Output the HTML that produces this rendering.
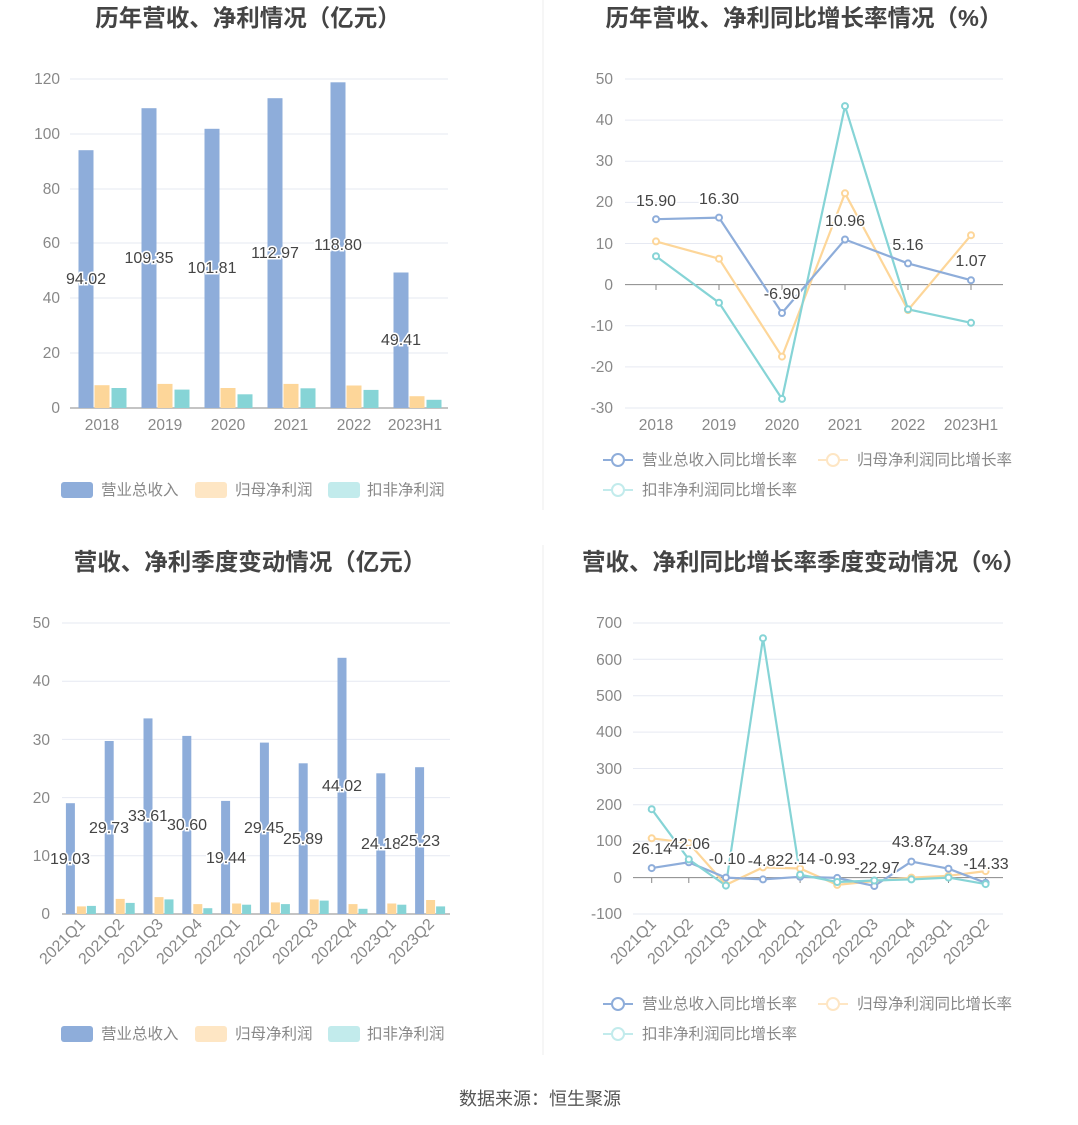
<!DOCTYPE html>
<html><head><meta charset="utf-8"><style>
body{margin:0;background:#fff}
svg{display:block;font-family:"Liberation Sans","Noto Sans CJK SC",sans-serif}
.t{font-size:23.5px;font-weight:bold;fill:#444;text-anchor:middle}
.ax{font-size:15.5px;fill:#888}
.g{stroke:#e6e9f2;stroke-width:1}
.lb{font-size:16px;fill:#444;text-anchor:middle;stroke:#fff;stroke-width:3;paint-order:stroke}
.lg{font-size:15.5px;fill:#888}
.b{fill:#8eadda}.y{fill:#fdd699}.c{fill:#86d4d6}
</style></head><body>
<svg width="1078" height="1125" viewBox="0 0 1078 1125">
<line x1="543" y1="0" x2="543" y2="510" stroke="#eee"/>
<line x1="543" y1="545" x2="543" y2="1055" stroke="#eee"/>
<text class="t" x="248" y="26">历年营收、净利情况（亿元）</text>
<text class="t" x="804" y="26">历年营收、净利同比增长率情况（%）</text>
<text class="t" x="250" y="570">营收、净利季度变动情况（亿元）</text>
<text class="t" x="804" y="570">营收、净利同比增长率季度变动情况（%）</text>
<text x="540" y="1105" font-size="18" fill="#555" text-anchor="middle">数据来源：恒生聚源</text>

<!-- Chart1 -->
<g class="g"><line x1="70" x2="448" y1="79" y2="79"/><line x1="70" x2="448" y1="134" y2="134"/><line x1="70" x2="448" y1="189" y2="189"/><line x1="70" x2="448" y1="243" y2="243"/><line x1="70" x2="448" y1="298" y2="298"/><line x1="70" x2="448" y1="353" y2="353"/></g>
<line x1="70" x2="448" y1="408" y2="408" stroke="#888"/>
<g class="ax" text-anchor="end"><text x="60" y="84">120</text><text x="60" y="139">100</text><text x="60" y="194">80</text><text x="60" y="248">60</text><text x="60" y="303">40</text><text x="60" y="358">20</text><text x="60" y="413">0</text></g>
<g class="ax" text-anchor="middle"><text x="102" y="430">2018</text><text x="165" y="430">2019</text><text x="228" y="430">2020</text><text x="291" y="430">2021</text><text x="354" y="430">2022</text><text x="415" y="430">2023H1</text></g>
<g class="b"><rect x="78.5" y="150.2" width="15" height="257.8"/><rect x="141.5" y="108.2" width="15" height="299.8"/><rect x="204.5" y="128.8" width="15" height="279.2"/><rect x="267.5" y="98.2" width="15" height="309.8"/><rect x="330.5" y="82.3" width="15" height="325.7"/><rect x="393.5" y="272.5" width="15" height="135.5"/></g>
<g class="y"><rect x="94.5" y="385.2" width="15" height="22.8"/><rect x="157.5" y="383.9" width="15" height="24.1"/><rect x="220.5" y="388" width="15" height="20"/><rect x="283.5" y="383.9" width="15" height="24.1"/><rect x="346.5" y="385.5" width="15" height="22.5"/><rect x="409.5" y="396.2" width="15" height="11.8"/></g>
<g class="c"><rect x="111.5" y="388" width="15" height="20"/><rect x="174.5" y="389.6" width="15" height="18.4"/><rect x="237.5" y="394.3" width="15" height="13.7"/><rect x="300.5" y="388.3" width="15" height="19.7"/><rect x="363.5" y="389.9" width="15" height="18.1"/><rect x="426.5" y="399.8" width="15" height="8.2"/></g>
<g class="lb"><text x="86" y="284">94.02</text><text x="149" y="263">109.35</text><text x="212" y="273">101.81</text><text x="275" y="258">112.97</text><text x="338" y="250">118.80</text><text x="401" y="345">49.41</text></g>
<rect x="61" y="482" width="32" height="16" rx="3" fill="#8eadda"/><text class="lg" x="101" y="495">营业总收入</text>
<rect x="195" y="482" width="32" height="16" rx="3" fill="#fee6c4"/><text class="lg" x="235" y="495">归母净利润</text>
<rect x="328" y="482" width="32" height="16" rx="3" fill="#c2ebec"/><text class="lg" x="367" y="495">扣非净利润</text>

<!-- Chart2 -->
<g class="g"><line x1="625" x2="1003" y1="79" y2="79"/><line x1="625" x2="1003" y1="120.1" y2="120.1"/><line x1="625" x2="1003" y1="161.3" y2="161.3"/><line x1="625" x2="1003" y1="202.4" y2="202.4"/><line x1="625" x2="1003" y1="243.5" y2="243.5"/><line x1="625" x2="1003" y1="325.7" y2="325.7"/><line x1="625" x2="1003" y1="366.9" y2="366.9"/><line x1="625" x2="1003" y1="408" y2="408"/></g>
<line x1="625" x2="1003" y1="284.6" y2="284.6" stroke="#888"/>
<g stroke="#888"><line x1="656" x2="656" y1="284.6" y2="290"/><line x1="719" x2="719" y1="284.6" y2="290"/><line x1="782" x2="782" y1="284.6" y2="290"/><line x1="845" x2="845" y1="284.6" y2="290"/><line x1="908" x2="908" y1="284.6" y2="290"/><line x1="971" x2="971" y1="284.6" y2="290"/></g>
<g class="ax" text-anchor="end"><text x="613" y="84">50</text><text x="613" y="125">40</text><text x="613" y="166">30</text><text x="613" y="207">20</text><text x="613" y="249">10</text><text x="613" y="290">0</text><text x="613" y="331">-10</text><text x="613" y="372">-20</text><text x="613" y="413">-30</text></g>
<g class="ax" text-anchor="middle"><text x="656" y="430">2018</text><text x="719" y="430">2019</text><text x="782" y="430">2020</text><text x="845" y="430">2021</text><text x="908" y="430">2022</text><text x="971" y="430">2023H1</text></g>
<g fill="none" stroke-width="2.2">
<polyline stroke="#fdd699" points="656,241.4 719,258.7 782,356.6 845,193.3 908,310.1 971,235.2"/>
<polyline stroke="#86d4d6" points="656,256.2 719,302.7 782,398.9 845,106.1 908,309.3 971,322.8"/>
<polyline stroke="#8eadda" points="656,219.2 719,217.6 782,313 845,239.5 908,263.4 971,280.2"/>
</g>
<g fill="#fff" stroke-width="2">
<g stroke="#fdd699"><circle cx="656" cy="241.4" r="3"/><circle cx="719" cy="258.7" r="3"/><circle cx="782" cy="356.6" r="3"/><circle cx="845" cy="193.3" r="3"/><circle cx="908" cy="310.1" r="3"/><circle cx="971" cy="235.2" r="3"/></g>
<g stroke="#86d4d6"><circle cx="656" cy="256.2" r="3"/><circle cx="719" cy="302.7" r="3"/><circle cx="782" cy="398.9" r="3"/><circle cx="845" cy="106.1" r="3"/><circle cx="908" cy="309.3" r="3"/><circle cx="971" cy="322.8" r="3"/></g>
<g stroke="#8eadda"><circle cx="656" cy="219.2" r="3"/><circle cx="719" cy="217.6" r="3"/><circle cx="782" cy="313" r="3"/><circle cx="845" cy="239.5" r="3"/><circle cx="908" cy="263.4" r="3"/><circle cx="971" cy="280.2" r="3"/></g>
</g>
<g class="lb"><text x="656" y="206">15.90</text><text x="719" y="204">16.30</text><text x="782" y="299">-6.90</text><text x="845" y="226">10.96</text><text x="908" y="250">5.16</text><text x="971" y="266">1.07</text></g>
<g stroke-width="2" fill="#fff">
<line x1="603" x2="633" y1="460" y2="460" stroke="#8eadda"/><circle cx="618" cy="460" r="6" stroke="#8eadda"/>
<line x1="818" x2="848" y1="460" y2="460" stroke="#fee6c4"/><circle cx="833" cy="460" r="6" stroke="#fee6c4"/>
<line x1="603" x2="633" y1="490" y2="490" stroke="#c2ebec"/><circle cx="618" cy="490" r="6" stroke="#c2ebec"/>
</g>
<text class="lg" x="642" y="465">营业总收入同比增长率</text><text class="lg" x="857" y="465">归母净利润同比增长率</text><text class="lg" x="642" y="495">扣非净利润同比增长率</text>

<!-- Chart3 -->
<g class="g"><line x1="62" x2="450" y1="623" y2="623"/><line x1="62" x2="450" y1="681.2" y2="681.2"/><line x1="62" x2="450" y1="739.4" y2="739.4"/><line x1="62" x2="450" y1="797.6" y2="797.6"/><line x1="62" x2="450" y1="855.8" y2="855.8"/></g>
<line x1="62" x2="450" y1="914" y2="914" stroke="#888"/>
<g class="ax" text-anchor="end"><text x="50" y="628">50</text><text x="50" y="686">40</text><text x="50" y="745">30</text><text x="50" y="803">20</text><text x="50" y="861">10</text><text x="50" y="919">0</text></g>
<g class="ax" text-anchor="end" style="font-size:16px">
<text transform="translate(86,925) rotate(-45)">2021Q1</text><text transform="translate(125,925) rotate(-45)">2021Q2</text><text transform="translate(164,925) rotate(-45)">2021Q3</text><text transform="translate(203,925) rotate(-45)">2021Q4</text><text transform="translate(241,925) rotate(-45)">2022Q1</text><text transform="translate(280,925) rotate(-45)">2022Q2</text><text transform="translate(319,925) rotate(-45)">2022Q3</text><text transform="translate(358,925) rotate(-45)">2022Q4</text><text transform="translate(397,925) rotate(-45)">2023Q1</text><text transform="translate(435,925) rotate(-45)">2023Q2</text></g>
<g class="b"><rect x="65.9" y="803.2" width="9" height="110.8"/><rect x="104.7" y="741" width="9" height="173"/><rect x="143.5" y="718.4" width="9" height="195.6"/><rect x="182.3" y="735.9" width="9" height="178.1"/><rect x="221.1" y="800.9" width="9" height="113.1"/><rect x="259.9" y="742.6" width="9" height="171.4"/><rect x="298.7" y="763.3" width="9" height="150.7"/><rect x="337.5" y="657.8" width="9" height="256.2"/><rect x="376.3" y="773.3" width="9" height="140.7"/><rect x="415.1" y="767.2" width="9" height="146.8"/></g>
<g class="y"><rect x="76.9" y="906.4" width="9" height="7.6"/><rect x="115.7" y="898.9" width="9" height="15.1"/><rect x="154.5" y="897.1" width="9" height="16.9"/><rect x="193.3" y="904.1" width="9" height="9.9"/><rect x="232.1" y="903.5" width="9" height="10.5"/><rect x="270.9" y="902.4" width="9" height="11.6"/><rect x="309.7" y="899.4" width="9" height="14.6"/><rect x="348.5" y="904.1" width="9" height="9.9"/><rect x="387.3" y="903.5" width="9" height="10.5"/><rect x="426.1" y="900" width="9" height="14"/></g>
<g class="c"><rect x="86.9" y="905.9" width="9" height="8.1"/><rect x="125.7" y="902.9" width="9" height="11.1"/><rect x="164.5" y="899.4" width="9" height="14.6"/><rect x="203.3" y="908.2" width="9" height="5.8"/><rect x="242.1" y="904.7" width="9" height="9.3"/><rect x="280.9" y="904.1" width="9" height="9.9"/><rect x="319.7" y="900.6" width="9" height="13.4"/><rect x="358.5" y="908.8" width="9" height="5.2"/><rect x="397.3" y="904.7" width="9" height="9.3"/><rect x="436.1" y="906.4" width="9" height="7.6"/></g>
<g class="lb"><text x="70" y="864">19.03</text><text x="109" y="833">29.73</text><text x="148" y="821">33.61</text><text x="187" y="830">30.60</text><text x="226" y="863">19.44</text><text x="264" y="833">29.45</text><text x="303" y="844">25.89</text><text x="342" y="791">44.02</text><text x="381" y="849">24.18</text><text x="420" y="846">25.23</text></g>
<rect x="61" y="1026" width="32" height="16" rx="3" fill="#8eadda"/><text class="lg" x="101" y="1039">营业总收入</text>
<rect x="195" y="1026" width="32" height="16" rx="3" fill="#fee6c4"/><text class="lg" x="235" y="1039">归母净利润</text>
<rect x="328" y="1026" width="32" height="16" rx="3" fill="#c2ebec"/><text class="lg" x="367" y="1039">扣非净利润</text>

<!-- Chart4 -->
<g class="g"><line x1="633" x2="1003" y1="623" y2="623"/><line x1="633" x2="1003" y1="659.3" y2="659.3"/><line x1="633" x2="1003" y1="695.7" y2="695.7"/><line x1="633" x2="1003" y1="732.1" y2="732.1"/><line x1="633" x2="1003" y1="768.5" y2="768.5"/><line x1="633" x2="1003" y1="804.8" y2="804.8"/><line x1="633" x2="1003" y1="841.2" y2="841.2"/><line x1="633" x2="1003" y1="914" y2="914"/></g>
<line x1="633" x2="1003" y1="877.6" y2="877.6" stroke="#888"/>
<g stroke="#888"><line x1="651.7" x2="651.7" y1="877.6" y2="883"/><line x1="688.8" x2="688.8" y1="877.6" y2="883"/><line x1="725.9" x2="725.9" y1="877.6" y2="883"/><line x1="763" x2="763" y1="877.6" y2="883"/><line x1="800.1" x2="800.1" y1="877.6" y2="883"/><line x1="837.2" x2="837.2" y1="877.6" y2="883"/><line x1="874.3" x2="874.3" y1="877.6" y2="883"/><line x1="911.4" x2="911.4" y1="877.6" y2="883"/><line x1="948.5" x2="948.5" y1="877.6" y2="883"/><line x1="985.6" x2="985.6" y1="877.6" y2="883"/></g>
<g class="ax" text-anchor="end"><text x="622" y="628">700</text><text x="622" y="665">600</text><text x="622" y="701">500</text><text x="622" y="737">400</text><text x="622" y="774">300</text><text x="622" y="810">200</text><text x="622" y="846">100</text><text x="622" y="883">0</text><text x="622" y="919">-100</text></g>
<g class="ax" text-anchor="end" style="font-size:16px">
<text transform="translate(657,925) rotate(-45)">2021Q1</text><text transform="translate(694,925) rotate(-45)">2021Q2</text><text transform="translate(731,925) rotate(-45)">2021Q3</text><text transform="translate(768,925) rotate(-45)">2021Q4</text><text transform="translate(805,925) rotate(-45)">2022Q1</text><text transform="translate(842,925) rotate(-45)">2022Q2</text><text transform="translate(879,925) rotate(-45)">2022Q3</text><text transform="translate(916,925) rotate(-45)">2022Q4</text><text transform="translate(953,925) rotate(-45)">2023Q1</text><text transform="translate(990,925) rotate(-45)">2023Q2</text></g>
<g fill="none" stroke-width="2.2">
<polyline stroke="#fdd699" points="651.7,838.3 688.8,843 725.9,884.9 763,867.4 800.1,868.5 837.2,884.9 874.3,881.2 911.4,877.6 948.5,875.8 985.6,871.1"/>
<polyline stroke="#8eadda" points="651.7,868.1 688.8,862.3 725.9,877.6 763,879.4 800.1,876.8 837.2,877.9 874.3,886 911.4,861.6 948.5,868.7 985.6,882.8"/>
<polyline stroke="#86d4d6" points="651.7,809.2 688.8,859.4 725.9,885.6 763,638.2 800.1,874.7 837.2,882 874.3,880.5 911.4,879.4 948.5,877.6 985.6,884.1"/>
</g>
<g fill="#fff" stroke-width="2">
<g stroke="#fdd699"><circle cx="651.7" cy="838.3" r="3"/><circle cx="688.8" cy="843" r="3"/><circle cx="725.9" cy="884.9" r="3"/><circle cx="763" cy="867.4" r="3"/><circle cx="800.1" cy="868.5" r="3"/><circle cx="837.2" cy="884.9" r="3"/><circle cx="874.3" cy="881.2" r="3"/><circle cx="911.4" cy="877.6" r="3"/><circle cx="948.5" cy="875.8" r="3"/><circle cx="985.6" cy="871.1" r="3"/></g>
<g stroke="#8eadda"><circle cx="651.7" cy="868.1" r="3"/><circle cx="688.8" cy="862.3" r="3"/><circle cx="725.9" cy="877.6" r="3"/><circle cx="763" cy="879.4" r="3"/><circle cx="800.1" cy="876.8" r="3"/><circle cx="837.2" cy="877.9" r="3"/><circle cx="874.3" cy="886" r="3"/><circle cx="911.4" cy="861.6" r="3"/><circle cx="948.5" cy="868.7" r="3"/><circle cx="985.6" cy="882.8" r="3"/></g>
<g stroke="#86d4d6"><circle cx="651.7" cy="809.2" r="3"/><circle cx="688.8" cy="859.4" r="3"/><circle cx="725.9" cy="885.6" r="3"/><circle cx="763" cy="638.2" r="3"/><circle cx="800.1" cy="874.7" r="3"/><circle cx="837.2" cy="882" r="3"/><circle cx="874.3" cy="880.5" r="3"/><circle cx="911.4" cy="879.4" r="3"/><circle cx="948.5" cy="877.6" r="3"/><circle cx="985.6" cy="884.1" r="3"/></g>
</g>
<g class="lb"><text x="652" y="854">26.14</text><text x="690" y="849">42.06</text><text x="727" y="864">-0.10</text><text x="766" y="866">-4.82</text><text x="800" y="864">2.14</text><text x="837" y="864">-0.93</text><text x="877" y="873">-22.97</text><text x="912" y="847">43.87</text><text x="948" y="855">24.39</text><text x="986" y="869">-14.33</text></g>
<g stroke-width="2" fill="#fff">
<line x1="603" x2="633" y1="1004" y2="1004" stroke="#8eadda"/><circle cx="618" cy="1004" r="6" stroke="#8eadda"/>
<line x1="818" x2="848" y1="1004" y2="1004" stroke="#fee6c4"/><circle cx="833" cy="1004" r="6" stroke="#fee6c4"/>
<line x1="603" x2="633" y1="1034" y2="1034" stroke="#c2ebec"/><circle cx="618" cy="1034" r="6" stroke="#c2ebec"/>
</g>
<text class="lg" x="642" y="1009">营业总收入同比增长率</text><text class="lg" x="857" y="1009">归母净利润同比增长率</text><text class="lg" x="642" y="1039">扣非净利润同比增长率</text>
</svg>
</body></html>
